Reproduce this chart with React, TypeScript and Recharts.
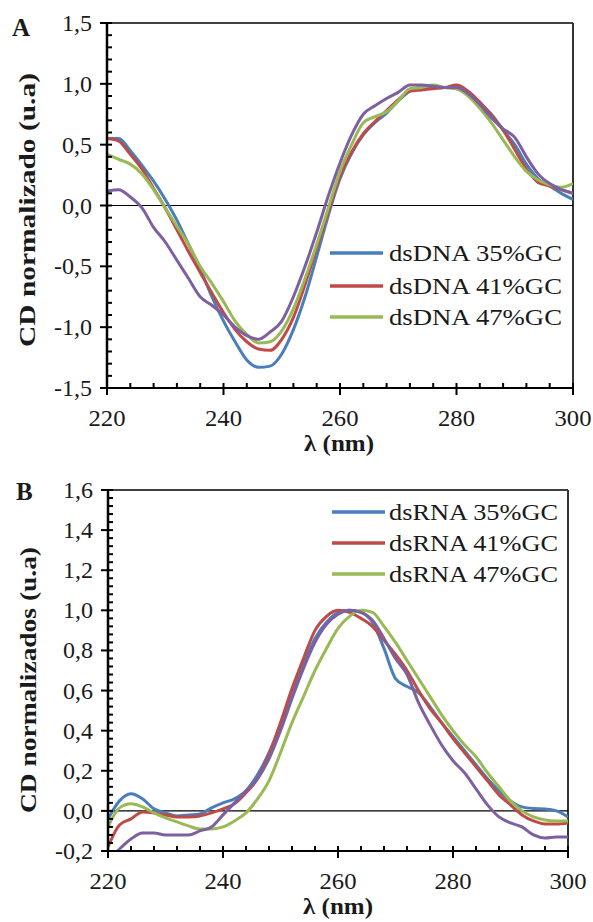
import React from 'react';
import { LineChart, Line, XAxis, YAxis, ReferenceLine } from 'recharts';

const FONT = '"Liberation Serif", "Times New Roman", serif';
const TEXT = '#1a1a1a';

// wavelength (nm)
const wavelength = [220, 222, 224, 226, 228, 230, 232, 234, 236, 238, 240, 242, 244, 246, 248, 250, 252, 254, 256, 258, 260, 262, 264, 266, 268, 270, 272, 274, 276, 278, 280, 282, 284, 286, 288, 290, 292, 294, 296, 298, 300];

// Panel A: dsDNA
const dna35 = [0.55, 0.55, 0.45, 0.33, 0.2, 0.05, -0.12, -0.32, -0.52, -0.75, -0.95, -1.12, -1.27, -1.33, -1.32, -1.22, -1.02, -0.75, -0.42, -0.08, 0.22, 0.43, 0.58, 0.68, 0.76, 0.86, 0.94, 0.97, 0.97, 0.97, 0.96, 0.91, 0.84, 0.75, 0.62, 0.5, 0.34, 0.22, 0.16, 0.1, 0.05];
const dna41 = [0.55, 0.53, 0.42, 0.3, 0.14, -0.02, -0.2, -0.38, -0.55, -0.72, -0.88, -1.02, -1.12, -1.18, -1.19, -1.1, -0.92, -0.65, -0.35, -0.05, 0.24, 0.44, 0.59, 0.69, 0.78, 0.87, 0.94, 0.95, 0.96, 0.97, 0.99, 0.94, 0.85, 0.74, 0.62, 0.46, 0.3, 0.19, 0.16, 0.13, 0.1];
const dna47 = [0.42, 0.38, 0.34, 0.26, 0.13, -0.02, -0.17, -0.32, -0.5, -0.64, -0.79, -0.95, -1.06, -1.13, -1.12, -1.03, -0.85, -0.6, -0.32, -0.02, 0.28, 0.5, 0.68, 0.73, 0.77, 0.86, 0.96, 0.97, 0.99, 0.97, 0.96, 0.9, 0.8, 0.68, 0.54, 0.4, 0.28, 0.21, 0.17, 0.15, 0.18];
const dnaExtra = [0.12, 0.13, 0.07, -0.02, -0.18, -0.3, -0.45, -0.6, -0.75, -0.82, -0.9, -1.0, -1.07, -1.1, -1.04, -0.95, -0.75, -0.5, -0.22, 0.08, 0.35, 0.58, 0.75, 0.82, 0.88, 0.93, 0.99, 0.99, 0.98, 0.97, 0.97, 0.92, 0.83, 0.72, 0.63, 0.56, 0.4, 0.26, 0.18, 0.13, 0.1];

// Panel B: dsRNA
const rna35 = [-0.04, 0.05, 0.085, 0.06, 0.01, -0.01, -0.025, -0.02, -0.015, 0.015, 0.04, 0.06, 0.1, 0.18, 0.29, 0.43, 0.59, 0.73, 0.86, 0.94, 0.99, 1.0, 0.99, 0.94, 0.81, 0.66, 0.62, 0.59, 0.52, 0.44, 0.37, 0.3, 0.23, 0.16, 0.1, 0.05, 0.02, 0.012, 0.01, 0.0, -0.03];
const rna41 = [-0.18, -0.07, -0.04, -0.005, -0.01, -0.02, -0.03, -0.03, -0.025, -0.01, 0.01, 0.035, 0.09, 0.16, 0.28, 0.44, 0.61, 0.76, 0.9, 0.97, 1.0, 0.99, 0.96, 0.92, 0.85, 0.78, 0.7, 0.6, 0.51, 0.44, 0.36, 0.29, 0.22, 0.15, 0.08, 0.03, -0.02, -0.05, -0.065, -0.065, -0.06];
const rna47 = [-0.08, 0.015, 0.035, 0.02, -0.01, -0.035, -0.055, -0.075, -0.09, -0.09, -0.08, -0.05, -0.01, 0.06, 0.15, 0.29, 0.44, 0.57, 0.7, 0.81, 0.91, 0.97, 1.0, 0.99, 0.92, 0.84, 0.75, 0.66, 0.57, 0.48, 0.4, 0.33, 0.27, 0.19, 0.12, 0.05, 0.0, -0.03, -0.045, -0.05, -0.05];
const rnaExtra = [-0.25, -0.19, -0.14, -0.11, -0.11, -0.12, -0.12, -0.12, -0.1, -0.08, -0.02, 0.04, 0.1, 0.16, 0.26, 0.4, 0.56, 0.71, 0.84, 0.93, 0.98, 1.0, 0.99, 0.95, 0.86, 0.76, 0.68, 0.54, 0.43, 0.33, 0.25, 0.19, 0.11, 0.03, -0.03, -0.06, -0.08, -0.12, -0.135, -0.13, -0.13];

const dnaNames = ['dsDNA 35%GC', 'dsDNA 41%GC', 'dsDNA 47%GC'];
const rnaNames = ['dsRNA 35%GC', 'dsRNA 41%GC', 'dsRNA 47%GC'];
const colors = ['#4A7EBB', '#BE4B48', '#98B954', '#7D60A0'];

// ticks
const xTicks = [220, 224, 228, 232, 236, 240, 244, 248, 252, 256, 260, 264, 268, 272, 276, 280, 284, 288, 292, 296, 300];
const xMajor = [220, 240, 260, 280, 300];
const range = (a: number, b: number, s: number) => {
  const out: number[] = [];
  const n = Math.round((b - a) / s);
  for (let i = 0; i <= n; i++) out.push(Math.round((a + i * s) * 1000) / 1000);
  return out;
};
const yTicksA = range(-1.5, 1.5, 0.1);
const yTicksB = range(-0.2, 1.6, 0.04);

const dataA = wavelength.map((wl, i) => ({ wl, a: dna35[i], b: dna41[i], c: dna47[i], d: dnaExtra[i] }));
const dataB = wavelength.map((wl, i) => ({ wl, a: rna35[i], b: rna41[i], c: rna47[i], d: rnaExtra[i] }));

const fmt = (v: number) => {
  const r = Math.round(v * 10) / 10;
  return (r === 0 ? 0 : r).toFixed(1).replace('.', ',');
};

const XTick = (props: any) => {
  const { x, y, payload } = props;
  const v = payload.value;
  const major = xMajor.includes(v);
  return (
    <g>
      <line x1={x} x2={x} y1={y - 5} y2={major ? y + 7 : y} stroke="#000" strokeWidth={2} />
      {major && (
        <text x={x} y={y + 38} textAnchor="middle" fontSize={23} fontFamily={FONT} fill={TEXT} textLength={37} lengthAdjust="spacingAndGlyphs">
          {v}
        </text>
      )}
    </g>
  );
};

const makeYTick = (step: number) => (props: any) => {
  const { x, y, payload } = props;
  const v = payload.value;
  const q = v / step;
  const major = Math.abs(q - Math.round(q)) < 1e-6;
  const label = fmt(v);
  return (
    <g>
      <line x1={major ? x - 7 : x} x2={x + 5} y1={y} y2={y} stroke="#000" strokeWidth={2} />
      {major && (
        <text x={x - 15} y={y + 8} textAnchor="end" fontSize={24} fontFamily={FONT} fill={TEXT}>
          {label}
        </text>
      )}
    </g>
  );
};
const YTickA = makeYTick(0.5);
const YTickB = makeYTick(0.2);

const series = (keys: string[]) =>
  keys.map((k, i) => (
    <Line
      key={k}
      type="monotone"
      dataKey={k}
      stroke={colors[i]}
      strokeWidth={3}
      dot={false}
      activeDot={false}
      isAnimationActive={false}
    />
  ));

const LegendBox = ({ names, rows, x1, x2, tx, len }: { names: string[]; rows: number[]; x1: number; x2: number; tx: number; len: number }) => (
  <g>
    {names.map((n, i) => (
      <g key={n}>
        <line x1={x1} x2={x2} y1={rows[i]} y2={rows[i]} stroke={colors[i]} strokeWidth={3.5} />
        <text x={tx} y={rows[i] + 8} fontSize={23} fontFamily={FONT} fill={TEXT} textLength={len} lengthAdjust="spacingAndGlyphs">
          {n}
        </text>
      </g>
    ))}
  </g>
);

export default function App() {
  return (
    <div style={{ position: 'absolute', left: 0, top: 0, width: 593, height: 922, background: '#fff' }}>
      <div style={{ position: 'absolute', left: 0, top: 0 }}>
        <LineChart width={593} height={460} data={dataA} margin={{ top: 23, right: 20, bottom: 0, left: 0 }}>
          <XAxis
            type="number"
            dataKey="wl"
            domain={[220, 300]}
            allowDataOverflow
            ticks={xTicks}
            interval={0}
            tickSize={0}
            tickMargin={0}
            tickLine={false}
            tick={XTick}
            height={72}
            axisLine={{ stroke: '#000', strokeWidth: 2 }}
          />
          <YAxis
            type="number"
            domain={[-1.5, 1.5]}
            allowDataOverflow
            ticks={yTicksA}
            interval={0}
            tickSize={0}
            tickMargin={0}
            tickLine={false}
            tick={YTickA}
            width={107}
            axisLine={{ stroke: '#000', strokeWidth: 2.5 }}
          />
          <ReferenceLine y={1.5} stroke="#000" strokeWidth={1.5} />
          <ReferenceLine x={300} stroke="#333" strokeWidth={2} />
          <ReferenceLine y={0} stroke="#000" strokeWidth={1.2} />
          {series(['a', 'b', 'c', 'd'])}
        </LineChart>
      </div>
      <div style={{ position: 'absolute', left: 0, top: 460 }}>
        <LineChart width={593} height={462} data={dataB} margin={{ top: 30, right: 25, bottom: 0, left: 0 }}>
          <XAxis
            type="number"
            dataKey="wl"
            domain={[220, 300]}
            allowDataOverflow
            ticks={xTicks}
            interval={0}
            tickSize={0}
            tickMargin={0}
            tickLine={false}
            tick={XTick}
            height={71}
            axisLine={{ stroke: '#000', strokeWidth: 2 }}
          />
          <YAxis
            type="number"
            domain={[-0.2, 1.6]}
            allowDataOverflow
            ticks={yTicksB}
            interval={0}
            tickSize={0}
            tickMargin={0}
            tickLine={false}
            tick={YTickB}
            width={108}
            axisLine={{ stroke: '#000', strokeWidth: 2.5 }}
          />
          <ReferenceLine y={1.6} stroke="#000" strokeWidth={1.5} />
          <ReferenceLine x={300} stroke="#333" strokeWidth={2} />
          <ReferenceLine y={0} stroke="#000" strokeWidth={1.2} />
          {series(['a', 'b', 'c', 'd'])}
        </LineChart>
      </div>
      <svg width={593} height={922} style={{ position: 'absolute', left: 0, top: 0, pointerEvents: 'none' }}>
        <text x={12} y={36} fontSize={25} fontWeight="bold" fontFamily={FONT} fill={TEXT}>A</text>
        <text x={16} y={500} fontSize={25} fontWeight="bold" fontFamily={FONT} fill={TEXT}>B</text>
        <text transform="translate(35,210) rotate(-90)" textAnchor="middle" fontSize={24} fontWeight="bold" fontFamily={FONT} fill={TEXT} textLength={274} lengthAdjust="spacingAndGlyphs">
          CD normalizado (u.a)
        </text>
        <text transform="translate(36,680) rotate(-90)" textAnchor="middle" fontSize={24} fontWeight="bold" fontFamily={FONT} fill={TEXT} textLength={266} lengthAdjust="spacingAndGlyphs">
          CD normalizados (u.a)
        </text>
        <text x={339} y={451} textAnchor="middle" fontSize={23} fontWeight="bold" fontFamily={FONT} fill={TEXT} textLength={70} lengthAdjust="spacingAndGlyphs">
          λ (nm)
        </text>
        <text x={338} y={914} textAnchor="middle" fontSize={23} fontWeight="bold" fontFamily={FONT} fill={TEXT} textLength={70} lengthAdjust="spacingAndGlyphs">
          λ (nm)
        </text>
        <LegendBox names={dnaNames} rows={[253, 286, 317]} x1={330} x2={383} tx={389} len={173} />
        <LegendBox names={rnaNames} rows={[512, 543, 574]} x1={332} x2={385} tx={389} len={169} />
      </svg>
    </div>
  );
}
